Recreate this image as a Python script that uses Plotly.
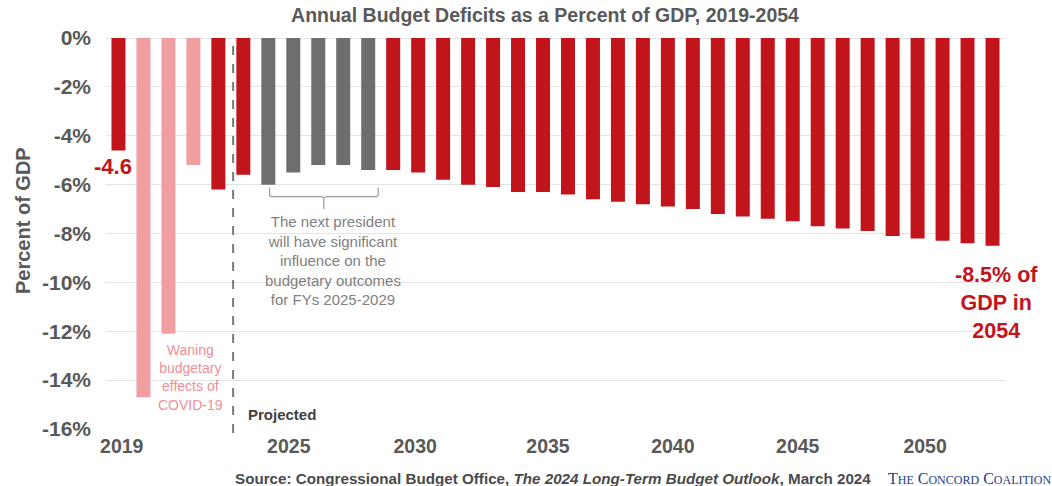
import plotly.graph_objects as go

# ---------------- data ----------------
years = list(range(2019, 2055))
deficits = [-4.6, -14.7, -12.1, -5.2, -6.2, -5.6, -6.0, -5.5, -5.2, -5.2,
            -5.4, -5.4, -5.5, -5.8, -6.0, -6.1, -6.3, -6.3, -6.4, -6.6,
            -6.7, -6.8, -6.9, -7.0, -7.2, -7.3, -7.4, -7.5, -7.7, -7.8,
            -7.9, -8.1, -8.2, -8.3, -8.4, -8.5]
covid_years = [2020, 2021, 2022]
next_president_years = [2025, 2026, 2027, 2028, 2029]
y_ticks = [0, -2, -4, -6, -8, -10, -12, -14, -16]
x_tick_labels = ["2019", "2025", "2030", "2035", "2040", "2045", "2050"]

# ---------------- style ----------------
RED = "#C1141B"
PINK = "#F19EA1"
GREY = "#6E6E6E"
TXT = "#595959"
FONT = "Liberation Sans, Arial, sans-serif"

colors = [PINK if y in covid_years else GREY if y in next_president_years else RED
          for y in years]

# tick label placement as drawn in the original
x_tick_pos = [2019.13, 2025.82, 2030.88, 2036.2, 2041.2, 2046.2, 2051.3]

fig = go.Figure()
fig.add_trace(go.Bar(x=years, y=deficits, marker=dict(color=colors, line=dict(width=0)),
                     width=0.56, hoverinfo="x+y"))

W, H = 1052, 486
L, R, T, B = 106, 47, 38, 57
pw, ph = W - L - R, H - T - B


def px_x(px):
    return (px - L) / pw


def px_y(py):
    return (H - B - py) / ph


fig.update_layout(
    width=W, height=H,
    margin=dict(l=L, r=R, t=T, b=B),
    plot_bgcolor="white", paper_bgcolor="white",
    showlegend=False, bargap=0.4,
    font=dict(family=FONT, color=TXT),
    title=dict(text="<b>Annual Budget Deficits as a Percent of GDP, 2019-2054</b>",
               x=545 / W, xanchor="center", y=1 - 15 / H, yanchor="middle",
               font=dict(family=FONT, size=19.5, color=TXT)),
    xaxis=dict(range=[2018.5, 2054.5], tickmode="array", tickvals=x_tick_pos,
               ticktext=x_tick_labels, showgrid=False, zeroline=False, ticks="",
               tickfont=dict(size=19.5, color=TXT, family=FONT, weight="bold"),
               ticklabelstandoff=3, showline=False),
    yaxis=dict(range=[-16, 0], tickmode="array", tickvals=y_ticks,
               ticktext=[f"{v}%" for v in y_ticks], showgrid=True,
               gridcolor="#E4E4E4", gridwidth=1, zeroline=True, zerolinecolor="#E4E4E4",
               zerolinewidth=1, ticks="", ticklabelstandoff=14,
               tickfont=dict(size=21, color=TXT, family=FONT, weight="bold")),
)

# projected divider
fig.add_shape(type="line", xref="x", yref="paper", x0=2023.59, x1=2023.59, y0=-0.01, y1=1.0,
              line=dict(color="#7A7A7A", width=2, dash="dash"))

# bracket over 2025-2029
bx0, bx1, bxc = 2025.05, 2029.4, 2027.22
yt, yh, yb = -6.12, -6.49, -7.0
path = (f"M {bx0},{yt} L {bx0},{yh+0.08} Q {bx0},{yh} {bx0+0.15},{yh} "
        f"L {bxc-0.15},{yh} Q {bxc},{yh} {bxc},{yh-0.08} L {bxc},{yb} "
        f"M {bxc},{yh-0.08} Q {bxc},{yh} {bxc+0.15},{yh} "
        f"L {bx1-0.15},{yh} Q {bx1},{yh} {bx1},{yh+0.08} L {bx1},{yt}")
fig.add_shape(type="path", xref="x", yref="y", path=path,
              line=dict(color="#9A9A9A", width=1.2))

anns = [
    dict(text="<b>-4.6</b>", x=2018.8, y=-5.26, xref="x", yref="y",
         font=dict(size=22, color=RED)),
    dict(text="Waning<br>budgetary<br>effects of<br>COVID-19", x=2021.89, y=-13.9,
         xref="x", yref="y", font=dict(size=14, color="#F08E95")),
    dict(text="<b>Projected</b>", x=2024.09, y=-15.41, xref="x", yref="y", xanchor="left",
         font=dict(size=15, color="#404040")),
    dict(text="The next president<br>will have significant<br>influence on the<br>budgetary outcomes<br>for FYs 2025-2029",
         x=2027.57, y=-9.1, xref="x", yref="y", font=dict(size=15, color="#808080")),
    dict(text="<b>-8.5% of<br>GDP in<br>2054</b>", x=2054.15, y=-10.83, xref="x", yref="y",
         font=dict(size=21.5, color=RED)),
    dict(text="<b>Percent of GDP</b>", x=px_x(23), y=px_y(221), xref="paper", yref="paper",
         textangle=-90, font=dict(size=20, color=TXT)),
    dict(text="<b>Source: Congressional Budget Office, <i>The 2024 Long-Term Budget Outlook</i>, March 2024</b>",
         x=px_x(553), y=px_y(478), xref="paper", yref="paper",
         font=dict(size=15.2, color="#4A4A4A")),
    dict(text="T<span style='font-size:12px'>HE</span> C<span style='font-size:12px'>ONCORD</span> C<span style='font-size:12px'>OALITION</span>",
         x=px_x(886), y=px_y(478), xref="paper", yref="paper", xanchor="left",
         font=dict(size=16, color="#233C87", family="Liberation Serif, Times New Roman, serif")),
]
for a in anns:
    a.setdefault("showarrow", False)
    a.setdefault("xanchor", "center")
    a.setdefault("yanchor", "middle")
    fig.add_annotation(**a)

fig.write_html("out.html")
